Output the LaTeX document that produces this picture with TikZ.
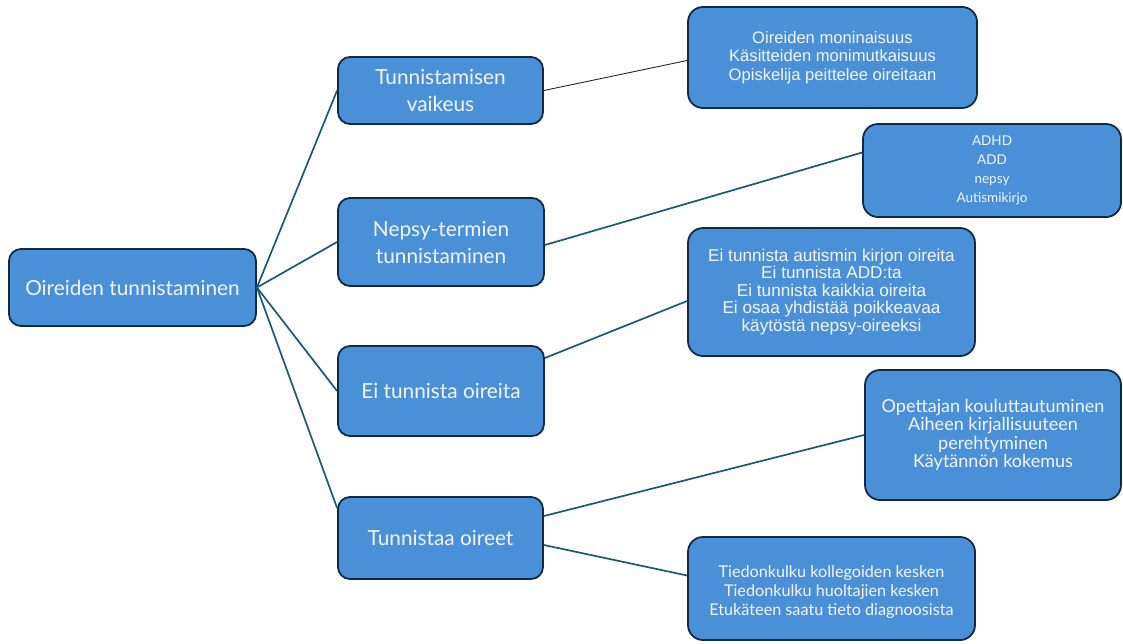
\documentclass[tikz,border=0pt]{standalone}
\usepackage{fontspec}
\setmainfont{Lato}
\newfontfamily\arialf{Liberation Sans}
\usetikzlibrary{calc}
\definecolor{boxfill}{RGB}{74,144,217}
\definecolor{boxdraw}{RGB}{16,42,68}
\definecolor{conn}{RGB}{26,88,118}
\definecolor{txt}{RGB}{242,246,252}
\begin{document}
\begin{tikzpicture}[x=1pt,y=-1pt,
  box/.style={draw=boxdraw, fill=boxfill, line width=1.8pt, rounded corners=12pt,
    text=txt, align=center, inner sep=0pt},
  big/.style={box, font=\fontsize{20.8}{27}\selectfont},
  detail/.style={box, rounded corners=15pt},
  link/.style={draw=conn, line width=1.7pt},
  thinlink/.style={draw=black!85, line width=0.9pt}]
\useasboundingbox (0,0) rectangle (1123,643);

% level 1
\node[big, minimum width=247pt, minimum height=77pt] (root) at (132.5,287.5) {Oireiden tunnistaminen};

% level 2
\node[big, minimum width=205pt, minimum height=67pt] (t1) at (440.5,90.5) {Tunnistamisen\\vaikeus};
\node[big, minimum width=206pt, minimum height=88pt] (t2) at (441,242) {Nepsy-termien\\tunnistaminen};
\node[big, minimum width=206pt, minimum height=90pt] (t3) at (441,391) {Ei tunnista oireita};
\node[big, minimum width=205pt, minimum height=82pt] (t4) at (440.5,538) {Tunnistaa oireet};

% level 3
\node[detail, minimum width=289pt, minimum height=101pt,
  font=\arialf\fontsize{16.6}{18.7}\selectfont] (d1) at (832.5,57.5)
  {Oireiden moninaisuus\\Käsitteiden monimutkaisuus\\Opiskelija peittelee oireitaan};
\node[detail, minimum width=258pt, minimum height=93pt,
  font=\fontsize{13.5}{19}\selectfont] (d2) at (992,170.5)
  {ADHD\\ADD\\nepsy\\Autismikirjo};
\node[detail, minimum width=287pt, minimum height=128pt,
  font=\arialf\fontsize{17.2}{17.5}\selectfont] (d3) at (831.5,292)
  {Ei tunnista autismin kirjon oireita\\Ei tunnista ADD:ta\\Ei tunnista kaikkia oireita\\Ei osaa yhdistää poikkeavaa\\käytöstä nepsy-oireeksi};
\node[detail, minimum width=256pt, minimum height=130pt,
  font=\fontsize{18}{18.5}\selectfont] (d4) at (993,435)
  {Opettajan kouluttautuminen\\Aiheen kirjallisuuteen\\perehtyminen\\Käytännön kokemus};
\node[detail, minimum width=287pt, minimum height=103pt] (d5) at (831.5,588.5) {};
\node[text=txt, align=center, inner sep=0pt, font=\fontsize{16.2}{19}\selectfont]
  (d5t) at (831.5,592) {Tiedonkulku kollegoiden kesken\\Tiedonkulku huoltajien kesken\\Etukäteen saatu tieto diagnoosista};

% connectors level 1 -> 2
\draw[link] (root.east) -- (t1.west);
\draw[link] (root.east) -- (t2.west);
\draw[link] (root.east) -- (t3.west);
\draw[link] (root.east) -- ([yshift=30pt]t4.west);

% connectors level 2 -> 3
\draw[thinlink] (t1.east) -- ([yshift=-3pt]d1.west);
\draw[link] ([yshift=-3pt]t2.east) -- ([yshift=18pt]d2.west);
\draw[link] ([yshift=33pt]t3.east) -- ([yshift=-9pt]d3.west);
\draw[link] ([yshift=22pt]t4.east) -- (d4.west);
\draw[link] ([yshift=-7pt]t4.east) -- ([yshift=13pt]d5.west);
\end{tikzpicture}
\end{document}
